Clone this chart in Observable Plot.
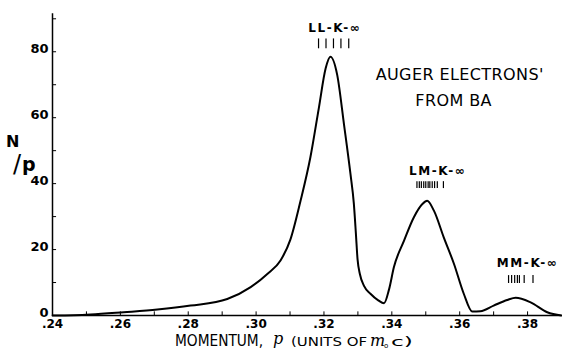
<!DOCTYPE html>
<html><head><meta charset="utf-8">
<script src="https://cdn.jsdelivr.net/npm/d3@7"></script>
<script src="https://cdn.jsdelivr.net/npm/@observablehq/plot@0.6"></script>
<style>body{margin:0;background:#fff}</style>
</head><body><div id="chart"></div>
<script>
// Curve: momentum p (units of m0c) vs N/p
const momentum = [.24,.2463,.2512,.261,.2709,.2807,.2915,.2984,.3033,.3072,.3101,.3131,.316,.3185,.3205,.3219,.3239,.3259,.3278,.3288,.3294,.3299,.3306,.3318,.3337,.3360,.3377,.3392,.3406,.3436,.3465,.349,.3504,.3524,.3553,.3583,.3612,.3637,.3661,.37,.374,.3765,.3809,.3858,.39];
const counts   = [0,0.1,0.3,1,1.8,3,5,8.6,12.6,16.7,23,34.8,48,63,75,78.5,73,58,43,34,25,17,12.5,9,6.6,4.6,3.7,8,14.6,22.7,29.8,33.8,34.8,31.8,23.7,15.7,6.6,1.2,1.3,3,4.7,5.4,4,1,0];

// Auger line groups
const groupLabels = ["LL-K-\u221E","LM-K-\u221E","MM-K-\u221E"];
const groupLabelP = [.3232,.3535,.3800];
const groupLabelV = [87.3,43.9,15.8];
const llLines = [.3184,.3206,.3228,.3250,.3273];
const lmLines = [.3474,.3481,.3487,.3494,.3500,.3507,.3512,.3519,.3526,.3534,.3552];
const mmLines = [.3744,.3753,.3762,.3770,.3776,.3790,.3816];
const lineBottoms = [80.9,38.5,9.7];
const lineTops = [83.9,40.6,12.1];

const titleLines = ["AUGER ELECTRONS'","FROM BA"];
const titleP = [.3600,.3582];
const titleV = [73,65];

const xTickLabels = [.24,.26,.28,.30,.32,.34,.36,.38];
const xMinor = [.25,.26,.27,.28,.29,.30,.31,.32,.33,.34,.35,.36,.37,.38];
const yTickLabels = [0,20,40,60,80];
const yMinor = [10,20,30,40,50,60,70,80,90];

const curve = momentum.map((p,i)=>({p, v: counts[i]}));
const groups = [llLines, lmLines, mmLines];
const lines = groups.flatMap((g,gi)=>g.map(p=>({p, y1: lineBottoms[gi], y2: lineTops[gi]})));
const labels = groupLabels.map((t,i)=>({t, p: groupLabelP[i], v: groupLabelV[i]}));
const title = titleLines.map((t,i)=>({t, p: titleP[i], v: titleV[i]}));

const chart = Plot.plot({
  width: 562, height: 349,
  marginLeft: 52, marginRight: 1, marginTop: 15, marginBottom: 34,
  style: {fontFamily: "DejaVu Sans, sans-serif", background: "#fff", color: "#000"},
  x: {domain: [.24,.39]},
  y: {domain: [0,91]},
  marks: [
    Plot.axisX({ticks: xTickLabels, tickSize: 0, tickPadding: 4, label: null,
      tickFormat: d => d.toFixed(2).replace(/^0/, ""), fontSize: 12, fontWeight: "bold"}),
    Plot.axisY({ticks: yTickLabels, tickSize: 0, tickPadding: 4, label: null, dy: -3,
      fontSize: 13, fontWeight: "bold"}),
    Plot.ruleX([.24], {y1: 0, y2: 91.5, stroke: "#000", strokeWidth: 1.5}),
    Plot.ruleY([0], {stroke: "#000", strokeWidth: 1.5}),
    Plot.ruleX(xMinor, {y1: 0, y2: 1.1, stroke: "#000", strokeWidth: 1}),
    Plot.ruleY(yMinor, {x1: .24, x2: .2412, stroke: "#000", strokeWidth: 1}),
    Plot.line(curve, {x: "p", y: "v", curve: "monotone-x", stroke: "#000", strokeWidth: 2}),
    Plot.ruleX(lines, {x: "p", y1: "y1", y2: "y2", stroke: "#000", strokeWidth: 1.2}),
    Plot.text(labels, {x: "p", y: "v", text: "t", fontSize: 12, fontWeight: "bold", fill: "#000"}),
    Plot.text(title, {x: "p", y: "v", text: "t", fontSize: 16, fill: "#000"})
  ]
});
document.getElementById("chart").append(chart);

const svg = d3.select(chart);
// widen group labels like the hand lettering
svg.selectAll("text").filter(function(){ return groupLabels.includes(this.textContent); })
  .attr("letter-spacing", 1.6);
svg.selectAll("text").filter(function(){ return titleLines.includes(this.textContent); })
  .attr("letter-spacing", 0.4);

const font = "DejaVu Sans, sans-serif";
const serif = "DejaVu Serif, serif";
function addSpan(parent, str, x, y, size, opts = {}) {
  const t = parent.append("tspan").attr("x", x).attr("y", y).attr("font-size", size).text(str);
  if (opts.len) t.attr("textLength", opts.len).attr("lengthAdjust", "spacingAndGlyphs");
  if (opts.family) t.style("font-family", opts.family);
  if (opts.italic) t.attr("font-style", "italic");
  if (opts.bold) t.attr("font-weight", "bold");
  return t;
}
// x label (one text element)
const xl = svg.append("text").attr("text-anchor", "start").attr("fill", "#000").style("font-family", font);
addSpan(xl, "MOMENTUM,", 175, 346, 16, {len: 88});
addSpan(xl, "p", 273, 344, 16, {family: serif, italic: true});
addSpan(xl, "(UNITS OF", 291, 346, 12, {len: 76});
addSpan(xl, "m", 370, 346, 16, {family: serif, italic: true});
addSpan(xl, "o", 384, 348, 7);
addSpan(xl, "c)", 391, 346, 13, {len: 22});
// y label N/p (one text element)
const yl = svg.append("text").attr("text-anchor", "start").attr("fill", "#000").style("font-family", font);
addSpan(yl, "N", 6, 147, 16, {bold: true});
addSpan(yl, "/", 13, 172, 24);
addSpan(yl, "p", 22, 171, 19, {bold: true});
</script></body></html>
